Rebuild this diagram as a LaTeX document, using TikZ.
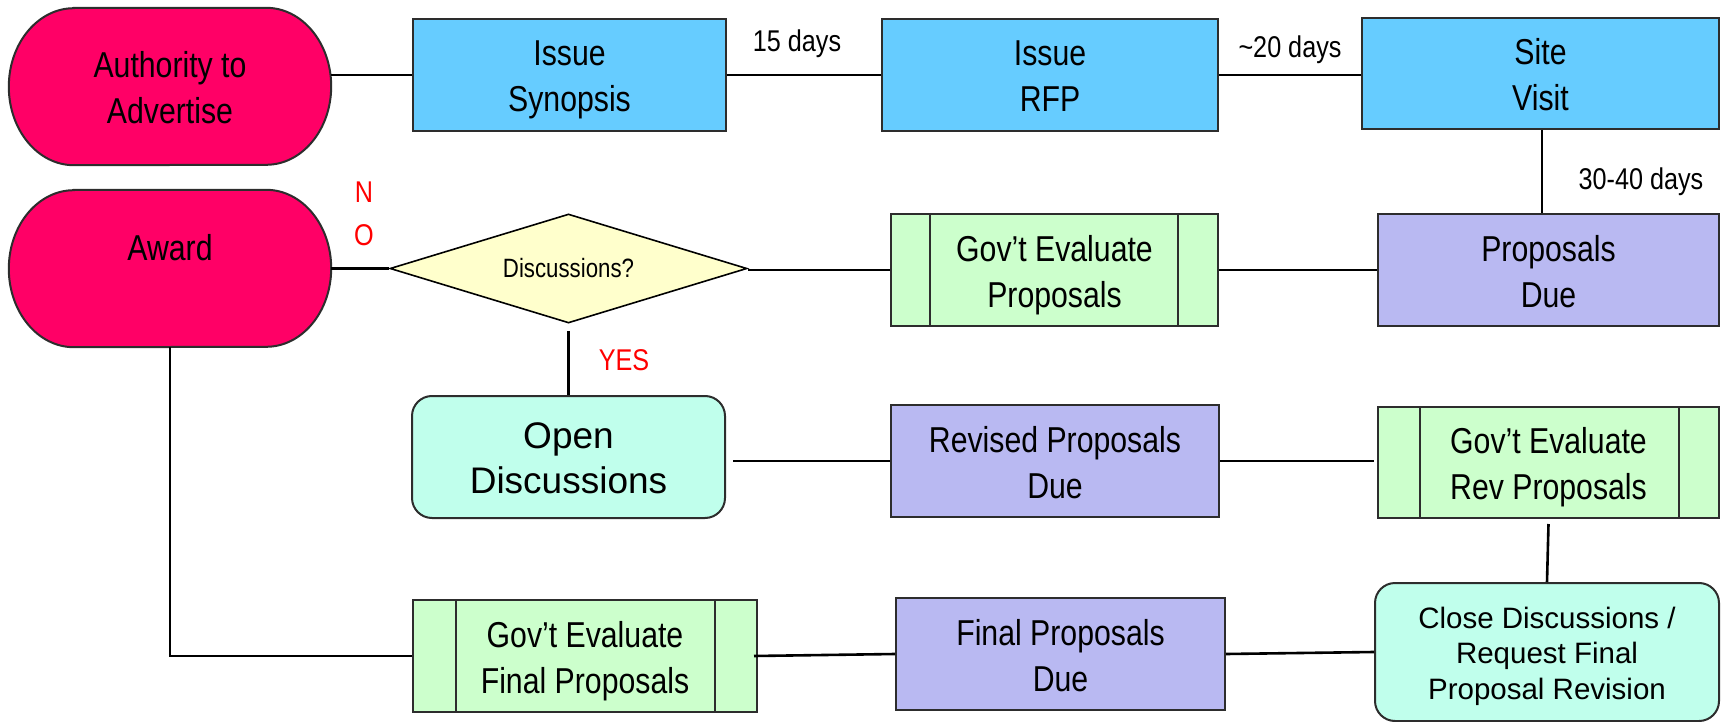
\documentclass[tikz,border=0pt]{standalone}
\usepackage{fontspec}
\setmainfont{Liberation Sans}
\newfontfamily\narrow[FakeStretch=0.84]{Liberation Sans}
\usetikzlibrary{shapes.geometric}
\pgfdeclarelayer{background}
\pgfsetlayers{background,main}
\definecolor{termc}{RGB}{255,0,102}
\definecolor{bluec}{RGB}{102,204,255}
\definecolor{greenc}{RGB}{204,255,204}
\definecolor{purplec}{RGB}{185,185,242}
\definecolor{yellowc}{RGB}{255,255,204}
\definecolor{tealc}{RGB}{192,255,236}
\definecolor{bord}{RGB}{45,45,45}
\definecolor{redc}{RGB}{255,0,0}
\begin{document}
\begin{tikzpicture}[x=1pt,y=1pt,
  boxtext/.style={align=center, font=\narrow\fontsize{36}{46}\selectfont, text height=82pt, text depth=8pt},
  basebox/.style={rectangle, draw=bord, line width=2pt, inner sep=0pt, boxtext},
  bluebox/.style={basebox, fill=bluec},
  greenbox/.style={basebox, fill=greenc},
  purplebox/.style={basebox, fill=purplec},
  tealbox/.style={basebox, fill=tealc, rounded corners=20pt, font=\fontsize{37}{45}\selectfont, text height=72pt, text depth=0pt},
  termnode/.style={rectangle, inner sep=0pt, minimum width=322pt, minimum height=157pt, boxtext},
  termshape/.style={draw=bord, line width=2pt, fill=termc},
  decision/.style={diamond, draw=black, line width=1.6pt, fill=yellowc, inner sep=0pt, aspect=3.3,
    minimum width=357pt, minimum height=109pt, font=\narrow\fontsize{26.5}{32}\selectfont},
  conn/.style={draw=black, line width=2.6pt},
  strip/.style={draw=bord, line width=2pt},
  dayslabel/.style={anchor=base, inner sep=0pt, font=\narrow\fontsize{30}{36}\selectfont},
  answer/.style={anchor=base, inner sep=0pt, text=redc, font=\narrow\fontsize{30}{36}\selectfont}
]
\useasboundingbox (0,0) rectangle (1721,-722);

% terminals
\node[termnode] (auth) at (170,-86.5) {Authority to\\Advertise};
\node[termnode, text height=26pt, text depth=43pt] (award) at (170,-268.5) {Award};
\begin{pgfonlayer}{background}
\foreach \n in {auth,award}{
  \path[termshape] ([xshift=65pt]\n.north west) -- ([xshift=-65pt]\n.north east)
    arc[start angle=90, end angle=-90, x radius=65pt, y radius=78.5pt]
    -- ([xshift=65pt]\n.south west)
    arc[start angle=270, end angle=90, x radius=65pt, y radius=78.5pt] -- cycle;
}
\end{pgfonlayer}

% top row
\node[bluebox, minimum width=313pt, minimum height=112pt] (syn) at (569.5,-75) {Issue\\Synopsis};
\node[bluebox, minimum width=336pt, minimum height=112pt] (rfp) at (1050,-75) {Issue\\RFP};
\node[bluebox, minimum width=357pt, minimum height=111pt] (site) at (1540.5,-73.5) {Site\\Visit};

% second row
\node[purplebox, minimum width=341pt, minimum height=112pt] (prop) at (1548.5,-270) {Proposals\\Due};
\node[greenbox, minimum width=327pt, minimum height=112pt] (ge) at (1054.5,-270) {Gov’t Evaluate\\Proposals};
\node[decision] (dia) at (568.5,-268.5) {Discussions?};

% third row
\node[tealbox, minimum width=313pt, minimum height=122pt] (open) at (568.5,-457) {Open\\Discussions};
\node[purplebox, minimum width=328pt, minimum height=112pt] (revd) at (1055,-461) {Revised Proposals\\Due};
\node[greenbox, minimum width=341pt, minimum height=111pt] (reval) at (1548.5,-462.5) {Gov’t Evaluate\\Rev Proposals};

% bottom row
\node[tealbox, minimum width=344pt, minimum height=138pt, font=\fontsize{29.5}{35.5}\selectfont, text height=100pt, text depth=6pt] (close) at (1547,-652) {Close Discussions /\\Request Final\\Proposal Revision};
\node[purplebox, minimum width=329pt, minimum height=112pt] (fdue) at (1060.5,-654) {Final Proposals\\Due};
\node[greenbox, minimum width=344pt, minimum height=112pt] (feval) at (585,-656) {Gov’t Evaluate\\Final Proposals};

% strips of predefined-process boxes
\foreach \n/\wl/\wr in {ge/40/41, reval/43/41, feval/44/43}{
  \draw[strip] ([xshift=\wl]\n.north west) -- ([xshift=\wl]\n.south west);
  \draw[strip] ([xshift=-\wr]\n.north east) -- ([xshift=-\wr]\n.south east);
}

% connectors
\draw[conn] (auth.east |- syn.west) -- (syn.west);
\draw[conn] (syn.east) -- (rfp.west);
\draw[conn] (rfp.east) -- (rfp.east -| site.west);
\draw[conn] ([xshift=1.5pt]site.south) -- ([xshift=1.5pt]site.south |- prop.north);
\draw[conn] (prop.west) -- (ge.east);
\draw[conn] (ge.west) -- (ge.west -| dia.east);
\draw[conn] (award.east |- dia.west) -- (dia.west);
\draw[conn] ([yshift=-7pt]dia.south) -- (open.north);
\draw[conn] ([xshift=7pt]revd.west -| open.east) -- (revd.west);
\draw[conn] (revd.east) -- ([xshift=-3pt]revd.east -| reval.west);
\draw[conn] ([yshift=-5pt]reval.south) -- (close.north);
\draw[conn] (close.west) -- (fdue.east);
\draw[conn] (fdue.west) -- ([xshift=-4pt]feval.east);
\draw[conn] (award.south) |- (feval.west);

% labels
\node[dayslabel] (l15) at (797,-52) {15 days};
\node[dayslabel] (l20) at (1290,-58) {\textasciitilde 20 days};
\node[dayslabel] (l30) at (1641,-190) {30-40 days};
\node[answer] (ansN) at (364,-203) {N};
\node[answer] (ansO) at (364,-245) {O};
\node[answer] (ansY) at (624,-370) {YES};
\end{tikzpicture}
\end{document}
